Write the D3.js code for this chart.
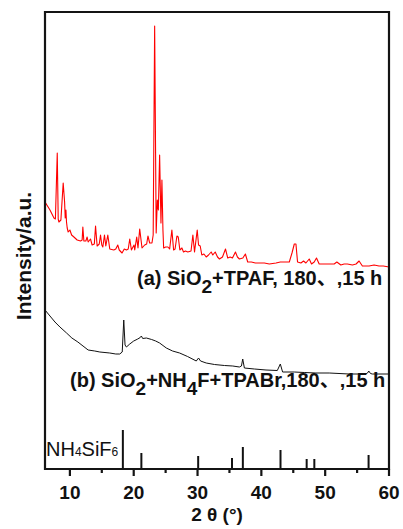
<!DOCTYPE html>
<html>
<head>
<meta charset="utf-8">
<script src="https://cdn.jsdelivr.net/npm/d3@7"></script>
<style>
    body { margin: 0; background: #fff; overflow: hidden; }
    svg { display: block; }
    svg text { font-family: "Liberation Sans", Arial, "Noto Sans CJK SC", sans-serif; fill: #111; }
</style>
</head>
<body>
<svg id="chart" width="403" height="529"></svg>
<script>
// (a) SiO2+TPAF pattern
const thetaA = [6.1, 6.88, 7.5, 7.73, 8.02, 8.17, 8.28, 8.59, 8.95, 9.17, 9.27, 9.38, 9.47, 9.58, 9.73,
    10.0, 10.27, 10.63, 11.14, 11.67, 11.92, 12.03, 12.19, 12.5, 12.7, 12.86, 13.23, 13.48, 13.83,
    14.02, 14.27, 14.6, 14.8, 15.0, 15.16, 15.42, 15.63, 15.94, 16.25, 16.88, 17.19, 17.5, 17.73,
    18.17, 18.52, 18.86, 19.14, 19.38, 19.64, 20.05, 20.16, 20.47, 20.67, 20.94, 21.3, 21.72, 22.03,
    22.23, 22.5, 22.86, 23.05, 23.28, 23.52, 23.7, 23.86, 24.06, 24.27, 24.42, 24.58, 24.69, 25.0,
    25.36, 25.63, 25.98, 26.25, 26.48, 26.77, 26.98, 27.23, 27.55, 27.8, 28.1, 28.48, 28.98, 29.27,
    29.53, 29.95, 30.16, 30.42, 30.67, 31.0, 31.36, 31.72, 32.14, 32.39, 32.77, 33.13, 33.44, 33.91,
    34.38, 34.73, 35.11, 35.47, 35.94, 36.25, 36.56, 37.1, 37.5, 37.86, 38.44, 39.06, 39.69, 40.47,
    41.25, 42.3, 42.97, 43.59, 44.38, 44.8, 45.16, 45.42, 45.67, 46.2, 46.61, 46.98, 47.5, 47.86,
    48.28, 48.64, 49.06, 49.84, 50.89, 51.41, 51.83, 52.45, 52.97, 53.48, 54.27, 54.84, 55.31, 55.83,
    56.88, 57.66, 58.44, 59.11, 60.0];
const intensityA = [267, 259, 251, 250, 316, 250, 247, 249, 286, 267, 251, 259, 247, 241, 237,
    239, 234, 232, 229, 228, 229, 242, 228, 228, 232, 227, 230, 224, 225,
    243, 223, 225, 234, 224, 222, 234, 223, 234, 220, 219, 220, 224, 219,
    216, 220, 219, 220, 230, 219, 224, 219, 232, 221, 240, 221, 224, 225,
    233, 226, 226, 234, 443, 236, 269, 259, 314, 246, 289, 239, 221, 222,
    222, 220, 239, 219, 220, 233, 232, 219, 221, 217, 218, 217, 218, 234,
    217, 239, 224, 223, 214, 215, 212, 214, 217, 214, 217, 212, 210, 212,
    220, 211, 212, 211, 217, 212, 210, 211, 215, 207, 207, 206, 206, 206,
    205, 206, 207, 207, 207, 216, 225, 225, 207, 206, 208, 206, 210, 205,
    207, 211, 205, 205, 205, 205, 207, 204, 205, 205, 204, 205, 208, 203,
    203, 204, 203, 203, 202];

// (b) SiO2+NH4F+TPABr pattern
const thetaB = [6.1, 6.88, 7.66, 8.44, 9.48, 10.31, 11.25, 12.86, 13.9, 14.69, 16.25, 17.19, 17.81,
    18.2, 18.44, 18.64, 18.86, 19.38, 20.0, 20.63, 21.02, 21.2, 21.41, 21.98, 22.81, 23.44, 24.06,
    25.11, 26.09, 27.19, 28.44, 29.8, 30.16, 30.47, 31.36, 32.66, 34.22, 35.52, 36.56, 36.88, 37.08,
    37.34, 38.91, 40.73, 42.5, 42.97, 43.33, 45.16, 46.72, 48.55, 50.63, 53.75, 56.36, 56.64, 56.83,
    57.1, 57.39, 60.0];
const intensityB = [159, 153, 147, 142, 136, 131, 127, 119, 118, 117, 116, 115, 115,
    117, 149, 124, 122, 125, 128, 130, 131.5, 133, 130.5, 131, 129.5, 128, 126,
    121, 118, 116, 112.5, 108, 111, 108, 106, 104.5, 103.5, 103, 102, 103, 110,
    101, 100, 99, 98.5, 105, 97, 97, 96.5, 96, 96, 95, 95, 96, 98,
    95.5, 95, 95];

// NH4SiF6 reference lines
const refTheta = [18.3, 21.2, 30.1, 35.4, 37.1, 43.0, 47.1, 48.3, 56.8];
const refIntensity = [39, 16, 13, 11, 22, 19, 10, 10, 14];

const xMajorTicks = [10, 20, 30, 40, 50, 60];
const xMinorTicks = [15, 25, 35, 45, 55];

const margin = { left: 45, right: 389, top: 12, bottom: 469 };
const svg = d3.select('#chart');

const xScale = d3.scaleLinear().domain([6.1, 60]).range([margin.left, margin.right]);
const yScale = d3.scaleLinear().domain([0, 457]).range([margin.bottom, margin.top]);

const line = d3.line()
    .x(d => xScale(d[0]))
    .y(d => yScale(d[1]));

// Patterns
svg.append('path')
    .datum(d3.zip(thetaA, intensityA))
    .attr('fill', 'none')
    .attr('stroke', '#ff0000')
    .attr('stroke-width', 1.1)
    .attr('stroke-linejoin', 'round')
    .attr('d', line);

svg.append('path')
    .datum(d3.zip(thetaB, intensityB))
    .attr('fill', 'none')
    .attr('stroke', '#111')
    .attr('stroke-width', 1)
    .attr('stroke-linejoin', 'round')
    .attr('d', line);

// Stick pattern
svg.append('g').selectAll('line')
    .data(d3.zip(refTheta, refIntensity))
    .join('line')
        .attr('x1', d => xScale(d[0]))
        .attr('x2', d => xScale(d[0]))
        .attr('y1', yScale(0))
        .attr('y2', d => yScale(d[1]))
        .attr('stroke', '#111')
        .attr('stroke-width', 2);

svg.append('g').selectAll('text')
    .data(xMajorTicks)
    .join('text')
        .attr('x', d => xScale(d))
        .attr('y', 499)
        .attr('text-anchor', 'middle')
        .style('font-size', '19px')
        .style('font-weight', 'bold')
        .text(d => d);

svg.append('text')
    .attr('x', (margin.left + margin.right) / 2)
    .attr('y', 521)
    .attr('text-anchor', 'middle')
    .style('font-size', '19px')
    .style('font-weight', 'bold')
    .text('2 θ (°)');

svg.append('text')
    .attr('transform', 'translate(31,256) rotate(-90)')
    .attr('text-anchor', 'middle')
    .style('font-size', '21px')
    .style('font-weight', 'bold')
    .text('Intensity/a.u.');

// Text with subscripts, parts = [text, isSub]
function addLabel(x, y, parts, opts) {
    const t = svg.append('text')
        .attr('x', x)
        .attr('y', y)
        .style('font-size', opts.size + 'px')
        .style('font-weight', opts.bold ? 'bold' : 'normal');
    let down = false;
    parts.forEach(([s, sub]) => {
        const span = t.append('tspan').text(s);
        if (sub) span.style('font-size', opts.subSize + 'px');
        if (sub && !down) { span.attr('dy', opts.shift); down = true; }
        else if (!sub && down) { span.attr('dy', -opts.shift); down = false; }
    });
    return t;
}

addLabel(137, 285, [['(a) SiO'], ['2', true], ['+TPAF, 180、,15 h']],
    { size: 20, subSize: 19, shift: 8, bold: true });
addLabel(70, 387, [['(b) SiO'], ['2', true], ['+NH'], ['4', true], ['F+TPABr,180、,15 h']],
    { size: 20, subSize: 19, shift: 8, bold: true });
addLabel(46, 456, [['NH'], ['4', true], ['SiF'], ['6', true]],
    { size: 20, subSize: 12, shift: 0 });

// Frame and outward x ticks, drawn last so nothing sits over them
const [x0, x1] = xScale.range();
const [y0, y1] = yScale.range();
const frameG = svg.append('g')
    .attr('stroke', 'rgb(20,20,20)')
    .attr('stroke-width', 2.2)
    .attr('fill', 'none');
frameG.append('path')
    .attr('d', d3.path().rect ? (() => { const p = d3.path(); p.rect(x0, y1, x1 - x0, y0 - y1); return p.toString(); })() : '');
frameG.selectAll('.major')
    .data(xMajorTicks)
    .join('line')
        .attr('class', 'major')
        .attr('x1', d => xScale(d))
        .attr('x2', d => xScale(d))
        .attr('y1', y0)
        .attr('y2', y0 + 7);
frameG.selectAll('.minor')
    .data(xMinorTicks)
    .join('line')
        .attr('class', 'minor')
        .attr('x1', d => xScale(d))
        .attr('x2', d => xScale(d))
        .attr('y1', y0)
        .attr('y2', y0 + 4);
</script>
</body>
</html>
